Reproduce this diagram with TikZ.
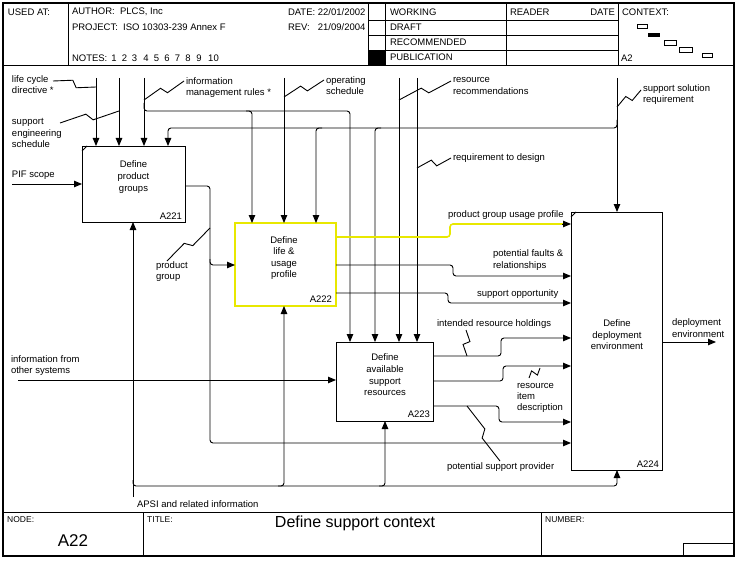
\documentclass[tikz,border=0pt]{standalone}
\usepackage{fontspec}
\setmainfont{Liberation Sans}
\usetikzlibrary{arrows.meta,calc}
\definecolor{ylw}{RGB}{232,232,0}
\newcommand\sqz[2]{\draw[ln] (#1) -- ($(#1)!0.45!(#2)!3.5pt!90:(#2)$) -- ($(#1)!0.55!(#2)!3.5pt!-90:(#2)$) -- (#2);}
\begin{document}
\begin{tikzpicture}[x=1pt,y=-1pt,
 ln/.style={line width=0.9pt},
 arr/.style={line width=0.9pt,-{Triangle[length=8pt,width=6.5pt]}},
 rc/.style={rounded corners=3pt},
 lbl/.style={font=\fontsize{9.5}{11.4}\selectfont,inner sep=0pt,outer sep=0pt,align=left},
 boxst/.style={draw,line width=0.9pt,inner sep=0pt,outer sep=0pt},
 btxt/.style={font=\fontsize{9.5}{11.6}\selectfont,inner sep=0pt,align=center},
 ftxt/.style={font=\fontsize{8.5}{10}\selectfont,inner sep=0pt,anchor=west}]
\useasboundingbox (0,0) rectangle (742,567);
\fill[white] (0,0) rectangle (742,567);
% ---------- frame ----------
\draw[line width=1.1pt] (3,3) rectangle (734,556);
\draw[ln] (3,65) -- (734,65);
\draw[ln] (68,3) -- (68,65);
\draw[ln] (368,3) -- (368,65);
\draw[ln] (385,3) -- (385,65);
\draw[ln] (506,3) -- (506,65);
\draw[ln] (618,3) -- (618,65);
\draw[ln] (368,20) -- (618,20);
\draw[ln] (368,35) -- (618,35);
\draw[ln] (368,50) -- (618,50);
\fill (368,50) rectangle (385,65);
% context
\draw[line width=0.7pt] (637,24) rectangle (647,28);
\fill (648,33) rectangle (660,37.5);
\draw[line width=0.7pt] (664,40) rectangle (676,45);
\draw[line width=0.7pt] (679,47) rectangle (692,52);
\draw[line width=0.7pt] (702,53) rectangle (712,57);
% footer
\draw[ln] (3,512) -- (734,512);
\draw[ln] (143,512) -- (143,556);
\draw[ln] (541,512) -- (541,556);
\draw[ln] (683,556) -- (683,543) -- (734,543);
% header text
\node[lbl,anchor=west] (usedat) at (8,12) {USED AT:};
\node[lbl,anchor=west] (author) at (72,12) {AUTHOR:\ \ PLCS, Inc};
\node[lbl,anchor=west] (project) at (72,27) {PROJECT:\ \ ISO 10303-239 Annex F};
\node[lbl,anchor=west] (notes) at (72,58) {NOTES:};
\foreach \n/\xx in {1/114,2/124.5,3/134.5,4/146,5/156.5,6/167,7/177.5,8/188,9/199,10/213.5}
  \node[lbl] (note\n) at (\xx,58) {\n};
\node[lbl,anchor=west] (datel) at (288,12) {DATE:\ 22/01/2002};
\node[lbl,anchor=west] (revl) at (288,27) {REV:};
\node[lbl,anchor=east] (revv) at (datel.east |- 0,27) {21/09/2004};
\node[lbl,anchor=west] (working) at (390,12) {WORKING};
\node[lbl,anchor=west] (draft) at (390,27) {DRAFT};
\node[lbl,anchor=west] (recom) at (390,42) {RECOMMENDED};
\node[lbl,anchor=west] (publ) at (390,57) {PUBLICATION};
\node[lbl,anchor=west] (reader) at (510,12) {READER};
\node[lbl,anchor=east] (rdate) at (615,12) {DATE};
\node[lbl,anchor=west] (context) at (622,12) {CONTEXT:};
\node[lbl,anchor=west] (ctxa2) at (621,58) {A2};
% footer text
\node[ftxt] (nodel) at (7,520) {NODE:};
\node[ftxt] (titlel) at (147,520) {TITLE:};
\node[ftxt] (numberl) at (545,520) {NUMBER:};
\node[font=\fontsize{17}{20}\selectfont,inner sep=0pt] (nodev) at (73,541) {A22};
\node[font=\fontsize{16}{19}\selectfont,inner sep=0pt] (titlev) at (355,523) {Define support context};
% ---------- boxes ----------
\node[boxst,minimum width=103pt,minimum height=76pt] (a221) at (133.5,184) {};
\node[boxst,draw=ylw,line width=1.6pt,minimum width=101pt,minimum height=83pt] (a222) at (285.5,264.5) {};
\node[boxst,minimum width=97pt,minimum height=79pt] (a223) at (384.5,381.5) {};
\node[boxst,minimum width=91pt,minimum height=258pt] (a224) at (616.5,341) {};
\draw[ln] ($(a221.north west)+(0,5)$) -- ($(a221.north west)+(5,0)$);
\draw[ln] ($(a224.north west)+(0,5)$) -- ($(a224.north west)+(5,0)$);
\node[btxt] (a221l) at (133.5,177) {Define\\product\\groups};
\node[btxt] (a222l) at (284,258) {Define\\life \&\\usage\\profile};
\node[btxt] (a223l) at (385,375) {Define\\available\\support\\resources};
\node[btxt] (a224l) at (617,335) {Define\\deployment\\environment};
\node[lbl,anchor=south east] (a221id) at ($(a221.south east)+(-3,-3)$) {A221};
\node[lbl,anchor=south east] (a222id) at ($(a222.south east)+(-4,-4)$) {A222};
\node[lbl,anchor=south east] (a223id) at ($(a223.south east)+(-3,-3)$) {A223};
\node[lbl,anchor=south east] (a224id) at ($(a224.south east)+(-3,-3)$) {A224};
% ---------- controls ----------
\coordinate (c1) at (96,78);
\draw[arr] (c1) -- (a221.north -| c1);
\coordinate (c2) at (119,78);
\draw[arr] (c2) -- (a221.north -| c2);
\coordinate (c3) at (144,78);
\draw[arr] (c3) -- (a221.north -| c3);
\draw[arr,rc] (144,103) -- (144,111) -- (350,111) -- (a223.north -| 350,0);
\draw[arr,rc] (246,111) -- (252,111) -- (a222.north -| 252,0);
\coordinate (c4) at (284,78);
\draw[arr] (c4) -- (a222.north -| c4);
\coordinate (c5) at (399,78);
\draw[arr] (c5) -- (a223.north -| c5);
\coordinate (c6) at (417,78);
\draw[arr] (c6) -- (a223.north -| c6);
\coordinate (c7) at (617,78);
\draw[arr] (c7) -- (a224.north -| c7);
\draw[arr,rc] (617,120) -- (617,128) -- (168,128) -- (a221.north -| 168,0);
\draw[arr,rc] (322,128) -- (316,128) -- (a222.north -| 316,0);
\draw[arr,rc] (381,128) -- (375,128) -- (a223.north -| 375,0);
% ---------- inputs ----------
\coordinate (pif) at (12,184);
\draw[arr] (pif) -- (a221.west |- pif);
\coordinate (ifos) at (18,380);
\draw[arr] (ifos) -- (a223.west |- ifos);
\draw[arr,rc] (a221.east |- 0,186) -- (210,186) -- (210,443) -- (a224.west |- 0,443);
\draw[arr,rc] (210,259) -- (210,265) -- (a222.west |- 0,265);
% ---------- outputs ----------
\draw[draw=ylw,line width=1.6pt,rc] (a222.east |- 0,237) -- (450,237) -- (450,224) -- ($(a224.west |- 0,224)+(-6,0)$);
\draw[arr] ($(a224.west |- 0,224)+(-9,0)$) -- (a224.west |- 0,224);
\draw[arr,rc] (a222.east |- 0,265) -- (453,265) -- (453,276) -- (a224.west |- 0,276);
\draw[arr,rc] (a222.east |- 0,293) -- (448,293) -- (448,303) -- (a224.west |- 0,303);
\draw[arr,rc] (a223.east |- 0,356) -- (501,356) -- (501,338) -- (a224.west |- 0,338);
\draw[arr,rc] (a223.east |- 0,381) -- (503,381) -- (503,366) -- (a224.west |- 0,366);
\draw[arr,rc] (a223.east |- 0,406) -- (499,406) -- (499,422) -- (a224.west |- 0,422);
\coordinate (dep) at (716,342);
\draw[arr] (a224.east |- dep) -- (dep);
% ---------- mechanisms ----------
\coordinate (apsi) at (133,497);
\draw[arr] (apsi) -- (a221.south -| apsi);
\draw[arr,rc] (133,480) -- (133,486) -- (617,486) -- (a224.south -| 617,0);
\draw[arr,rc] (278,486) -- (284,486) -- (a222.south -| 284,0);
\draw[arr,rc] (379,486) -- (385,486) -- (a223.south -| 385,0);
% ---------- squiggles ----------
\sqz{53,81}{96,87}
\sqz{60,123}{119,111}
\sqz{184,81}{144,100}
\sqz{324,80}{284,97}
\sqz{451,81}{399,100}
\sqz{451,158}{417,168}
\sqz{641,90}{617,107}
\sqz{167,261}{210,228}
\sqz{466,330}{467,356}
\sqz{529,378}{540,368}
\sqz{500,461}{467,406}
% ---------- labels ----------
\node[lbl,anchor=west] (l1) at (12,84.5) {life cycle\\directive *};
\node[lbl,anchor=west] (l2) at (12,133) {support\\engineering\\schedule};
\node[lbl,anchor=west] (l3) at (186,87.5) {information\\management rules *};
\node[lbl,anchor=west] (l4) at (326,85.5) {operating\\schedule};
\node[lbl,anchor=west] (l5) at (453,86) {resource\\recommendations};
\node[lbl,anchor=west] (l6) at (453,158) {requirement to design};
\node[lbl,anchor=west] (l7) at (643,94.5) {support solution\\requirement};
\node[lbl,anchor=west] (l8) at (12,175) {PIF scope};
\node[lbl,anchor=west] (l9) at (11,365.5) {information from\\other systems};
\node[lbl,anchor=west] (l10) at (156,271.5) {product\\group};
\node[lbl,anchor=west] (l11) at (448,215) {product group usage profile};
\node[lbl,anchor=west] (l12) at (493,260) {potential faults \&\\relationships};
\node[lbl,anchor=west] (l13) at (477,294) {support opportunity};
\node[lbl,anchor=west] (l14) at (437,324) {intended resource holdings};
\node[lbl,anchor=west] (l15) at (517,398) {resource\\item\\description};
\node[lbl,anchor=west] (l16) at (447,467) {potential support provider};
\node[lbl,anchor=west] (l17) at (672,328) {deployment\\environment};
\node[lbl,anchor=west] (l18) at (137,504) {APSI and related information};
\end{tikzpicture}
\end{document}
